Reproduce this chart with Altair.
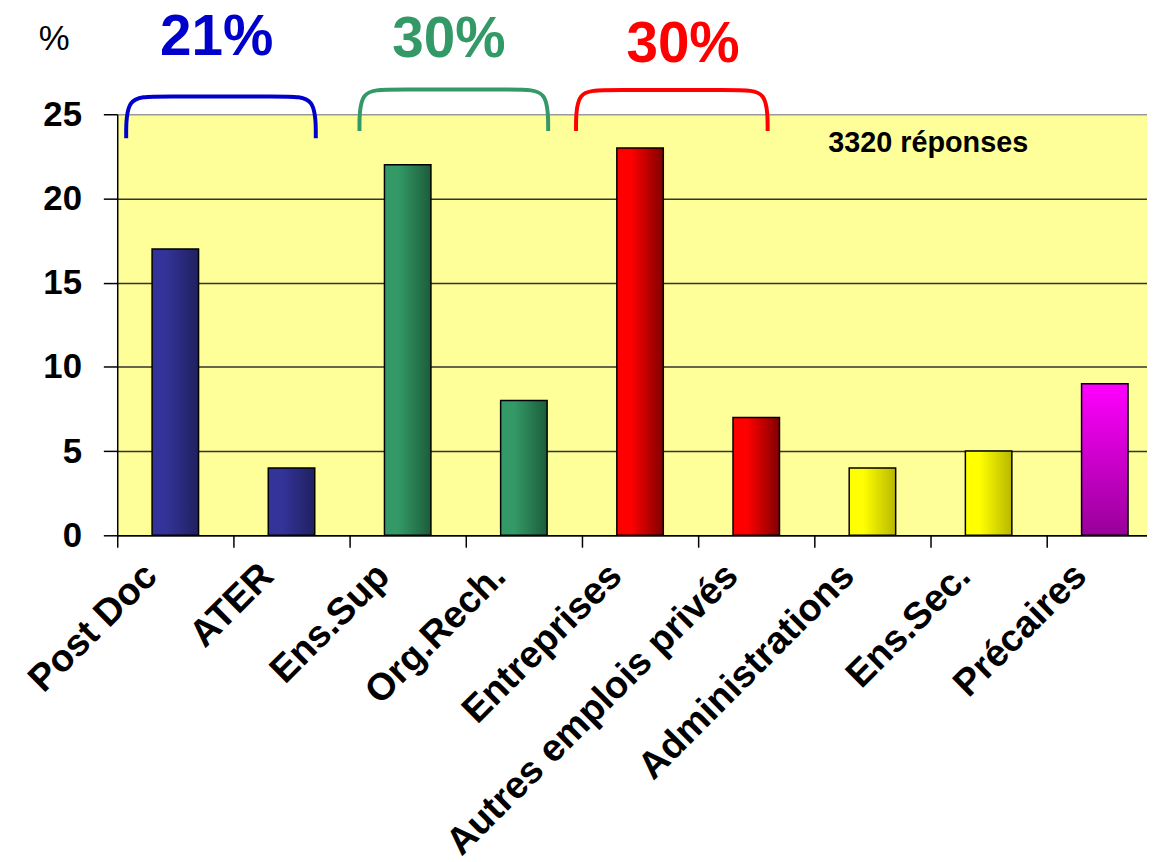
import altair as alt
import pandas as pd

# ---- data ----
categories = ["Post Doc", "ATER", "Ens.Sup", "Org.Rech.", "Entreprises",
              "Autres emplois privés", "Administrations", "Ens.Sec.", "Précaires"]
values = [17, 4, 22, 8, 23, 7, 4, 5, 9]
groups = ["postdoc", "postdoc", "public", "public", "prive", "prive",
          "autre", "autre", "precaire"]

bracket_names = ["postdoc", "public", "prive"]
bracket_labels = ["21%", "30%", "30%"]
bracket_colors = ["#0000CC", "#339966", "#FF0000"]
bracket_start = [0.077, 2.085, 3.949]   # in category-index units
bracket_end = [1.709, 3.709, 5.598]
bracket_top = [26.06, 26.47, 26.44]     # in % units
bracket_bottom = [23.58, 24.0, 24.0]
label_x = [0.855, 2.855, 4.87]
label_y = [29.54, 29.39, 29.1]

note_text = ["3320 réponses"]
note_x = [6.98]
note_y = [23.29]

FONT = "Liberation Sans"
N = len(categories)
RANGE = [0, 117 * N]

bars_df = pd.DataFrame({"category": categories, "value": values, "group": groups})

# bracket outline points (shape built from the spans above)
rows = []
corner = 0.25
for name, x0, x1, top, bot in zip(bracket_names, bracket_start, bracket_end,
                                  bracket_top, bracket_bottom):
    pts = [(x0, bot), (x0, top), (x0 + corner, top),
           (x1 - corner, top), (x1, top), (x1, bot)]
    for i, (px, py) in enumerate(pts):
        rows.append({"name": name, "pos": px, "value": py, "order": i})
brackets_df = pd.DataFrame(rows)
labels_df = pd.DataFrame({"name": bracket_names, "label": bracket_labels,
                          "pos": label_x, "value": label_y})
note_df = pd.DataFrame({"label": note_text, "pos": note_x, "value": note_y})


def hgrad(c0, c1):
    return alt.LinearGradient(
        gradient="linear", x1=0, y1=0, x2=1, y2=0,
        stops=[alt.GradientStop(color=c0, offset=0),
               alt.GradientStop(color=c0, offset=0.3),
               alt.GradientStop(color=c1, offset=1)])


def vgrad(c0, c1):
    return alt.LinearGradient(
        gradient="linear", x1=0, y1=0, x2=0, y2=1,
        stops=[alt.GradientStop(color=c0, offset=0),
               alt.GradientStop(color=c1, offset=1)])


fills = {
    "postdoc": hgrad("#333399", "#202060"),
    "public": hgrad("#339966", "#1C5C3A"),
    "prive": hgrad("#FF0000", "#800000"),
    "autre": hgrad("#FFFF00", "#B8B800"),
    "precaire": vgrad("#FF00FF", "#990099"),
}

y_scale = alt.Scale(domain=[0, 25], nice=False, zero=True)
y_axis = alt.Axis(
    values=[0, 5, 10, 15, 20, 25], labelFontSize=35, labelFontWeight="bold",
    labelColor="black", labelPadding=22, labelFont=FONT,
    tickSize=14, tickColor="black", tickWidth=1.5,
    domainColor="black", domainWidth=1.5,
    grid=True, gridWidth=1.5,
    gridColor={"condition": {"test": "datum.value === 25", "value": "#9a9a9a"},
               "value": "#333333"},
    title="%", titleAngle=0, titleX=-64, titleY=-76, titleAlign="center",
    titleBaseline="middle", titleFontSize=35, titleFontWeight="normal",
    titleColor="black", titleFont=FONT)

x_scale_band = alt.Scale(domain=categories, range=RANGE, paddingInner=0, paddingOuter=0)
x_axis = alt.Axis(
    bandPosition=0, labelOffset=-24, labelAngle=-45, labelAlign="right",
    labelBaseline="middle", labelFontSize=38, labelFontWeight="bold",
    labelColor="black", labelPadding=23, labelLimit=1000, labelOverlap=False,
    labelBound=False, labelFont=FONT,
    tickSize=12, tickColor="black", tickWidth=1.5,
    domainColor="black", domainWidth=1.5, grid=False)

layers = []
for i, g in enumerate(["postdoc", "public", "prive", "autre", "precaire"]):
    layers.append(
        alt.Chart(bars_df).transform_filter(alt.datum.group == g)
        .mark_bar(fill=fills[g], stroke="black", strokeWidth=1.5,
                  width=alt.RelativeBandSize(0.4))
        .encode(
            x=alt.X("category:N", sort=categories, title=None, scale=x_scale_band,
                    axis=x_axis if i == 0 else None),
            y=alt.Y("value:Q", scale=y_scale, axis=y_axis)))

x_num_scale = alt.Scale(domain=[0, N], range=RANGE, nice=False, zero=False)
x_num = alt.X("pos:Q", scale=x_num_scale, axis=None)
y_num = alt.Y("value:Q", scale=y_scale, axis=y_axis)
color_enc = alt.Color("name:N", scale=alt.Scale(domain=bracket_names, range=bracket_colors),
                      legend=None)

layers.append(alt.Chart(brackets_df).mark_line(
    interpolate="basis", strokeWidth=4, clip=False
).encode(x=x_num, y=y_num, color=color_enc, detail="name:N", order="order:Q"))

layers.append(alt.Chart(labels_df).mark_text(
    font=FONT, fontSize=57, fontWeight="bold", align="center", baseline="middle"
).encode(x=x_num, y=y_num, color=color_enc, text="label:N"))

layers.append(alt.Chart(note_df).mark_text(
    font=FONT, fontSize=29, fontWeight="bold", align="center", baseline="middle",
    color="black"
).encode(x=x_num, y=y_num, text="label:N"))

chart = alt.layer(*layers).resolve_scale(x="independent").properties(
    width=1037, height=424,
    autosize=alt.AutoSizeParams(type="none"),
    padding={"left": 110, "top": 104, "right": 0, "bottom": 326},
    background="white",
    view=alt.ViewBackground(fill="#FFFF99", stroke=None),
).configure_view(fill="#FFFF99", stroke=None).configure(font=FONT)

chart.save("out.html", embed_options={"renderer": "svg", "actions": False})
